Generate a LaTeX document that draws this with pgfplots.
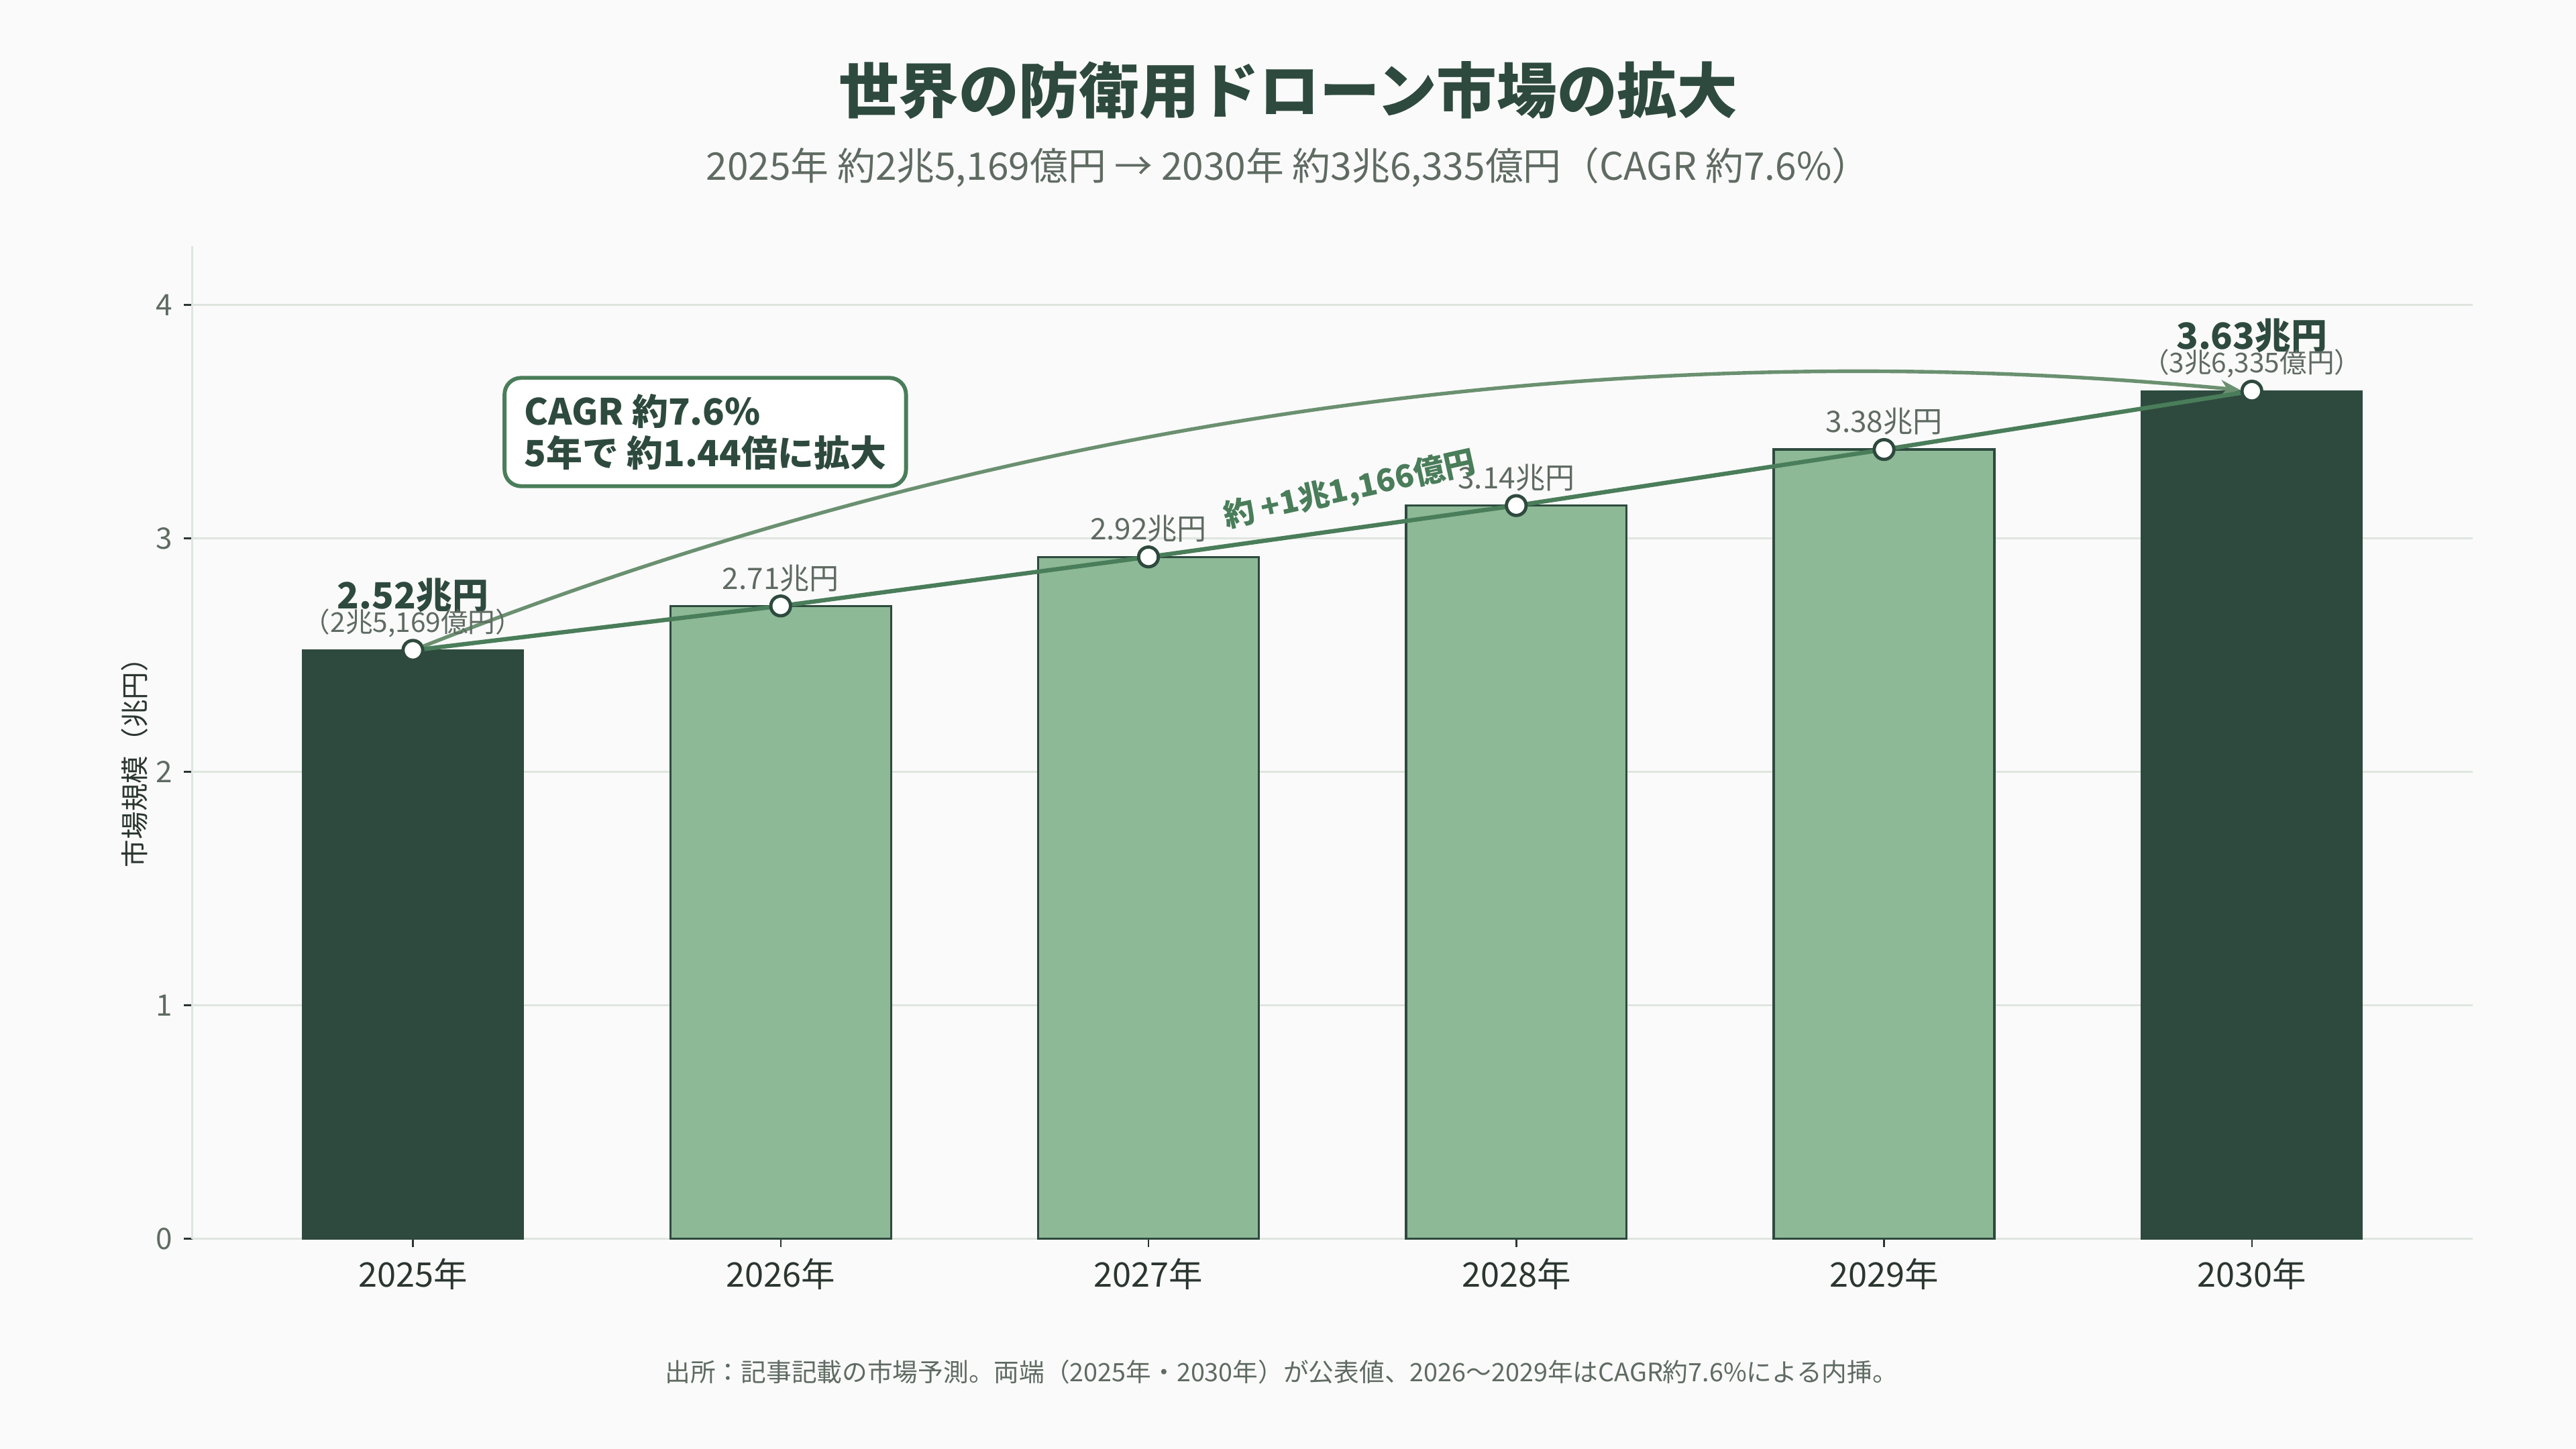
\documentclass[border=0pt]{standalone}
\usepackage{fontspec}
\usepackage{pgfplots}
\pgfplotsset{compat=1.18}
\usetikzlibrary{arrows.meta}
\setmainfont{Noto Sans CJK JP}

\definecolor{bg}{HTML}{FAFAFA}
\definecolor{darkgreen}{HTML}{2E4A3E}
\definecolor{lightgreen}{HTML}{8DB996}
\definecolor{linegreen}{HTML}{4A7D5A}
\definecolor{curvegreen}{HTML}{6A9070}
\definecolor{graytext}{HTML}{5F6B62}
\definecolor{gridgray}{HTML}{DFE5DF}
\definecolor{labeldark}{HTML}{2B3630}

\newcommand{\fs}[1]{\fontsize{#1}{#1}\selectfont}

\begin{document}
\begin{tikzpicture}[x=1pt,y=1pt]
\fill[bg] (0,0) rectangle (784,441);
\useasboundingbox (0,0) rectangle (784,441);

% titles and footnote
\node[font=\fs{18.3}\bfseries, text=darkgreen] at (392,413.5) {世界の防衛用ドローン市場の拡大};
\node[font=\fs{11.6}, text=graytext] at (392,390) {2025年 約2兆5,169億円 → 2030年 約3兆6,335億円（CAGR 約7.6\%）};
\node[font=\fs{7.7}, text=graytext] at (390,23.5) {出所：記事記載の市場予測。両端（2025年・2030年）が公表値、2026〜2029年はCAGR約7.6\%による内挿。};
\node[rotate=90, font=\fs{8.5}, text=labeldark] at (41,211) {市場規模（兆円）};

\begin{axis}[
  at={(58.5pt,64pt)}, anchor=south west,
  scale only axis, width=694pt, height=302pt,
  xmin=-0.6, xmax=5.6, ymin=0, ymax=4.25,
  axis x line*=bottom, axis y line*=left,
  axis line style={-, gridgray, line width=0.8pt},
  xtick={0,1,2,3,4,5},
  xticklabels={2025年,2026年,2027年,2028年,2029年,2030年},
  ytick={0,1,2,3,4},
  ymajorgrids, grid style={gridgray, line width=0.6pt},
  tick align=outside, major tick length=2.5pt,
  tick style={labeldark, line width=0.5pt},
  /pgf/number format/assume math mode=true,
  xticklabel style={text=labeldark, font=\fs{10.3}},
  yticklabel style={text=graytext, font=\fs{9}},
  clip=false,
]
% bars: published endpoints (dark) and interpolated years (light)
\addplot[ybar, bar width=0.6, bar shift=0pt, fill=darkgreen, draw=darkgreen]
  coordinates {(0,2.52) (5,3.63)};
\addplot[ybar, bar width=0.6, bar shift=0pt, fill=lightgreen, draw=darkgreen, line width=0.7pt]
  coordinates {(1,2.71) (2,2.92) (3,3.14) (4,3.38)};

% curved arrow from 2025 to 2030
\draw[curvegreen, line width=1.1pt, -{Stealth[length=6pt,width=5pt]},
      shorten <=3.5pt, shorten >=3.5pt]
  (axis cs:0,2.52) .. controls (axis cs:1.61,3.52) and (axis cs:3.277,3.89) .. (axis cs:5,3.63);

% growth line with markers
\addplot[linegreen, line width=1.3pt, mark=*, mark size=3pt,
         mark options={fill=white, draw=darkgreen, line width=1pt}]
  coordinates {(0,2.52) (1,2.71) (2,2.92) (3,3.14) (4,3.38) (5,3.63)};

% value labels
\node[font=\fs{11}\bfseries, text=darkgreen] at (axis cs:0,2.52) [yshift=16.8pt] {2.52兆円};
\node[font=\fs{8.3}, text=graytext] at (axis cs:0,2.52) [yshift=8.3pt] {（2兆5,169億円）};
\node[font=\fs{9}, text=graytext] at (axis cs:1,2.71) [yshift=8.5pt] {2.71兆円};
\node[font=\fs{9}, text=graytext] at (axis cs:2,2.92) [yshift=8.5pt] {2.92兆円};
\node[font=\fs{9}, text=graytext] at (axis cs:3,3.14) [yshift=8.5pt] {3.14兆円};
\node[font=\fs{9}, text=graytext] at (axis cs:4,3.38) [yshift=8.5pt] {3.38兆円};
\node[font=\fs{11}\bfseries, text=darkgreen] at (axis cs:5,3.63) [yshift=16.8pt] {3.63兆円};
\node[font=\fs{8.3}, text=graytext] at (axis cs:5,3.63) [yshift=8.3pt] {（3兆6,335億円）};

% increase label along the line
\node[rotate=12.5, font=\fs{9.5}\bfseries, text=linegreen] at (axis cs:2.547,3.206) {約 +1兆1,166億円};

% CAGR callout
\node[draw=linegreen, line width=1.2pt, rounded corners=5pt, fill=white,
      align=left, inner xsep=6pt, inner ysep=5pt,
      font=\fontsize{11}{12.5}\selectfont\bfseries, text=darkgreen]
  at (axis cs:0.795,3.455) {CAGR 約7.6\%\\5年で 約1.44倍に拡大};
\end{axis}
\end{tikzpicture}
\end{document}
